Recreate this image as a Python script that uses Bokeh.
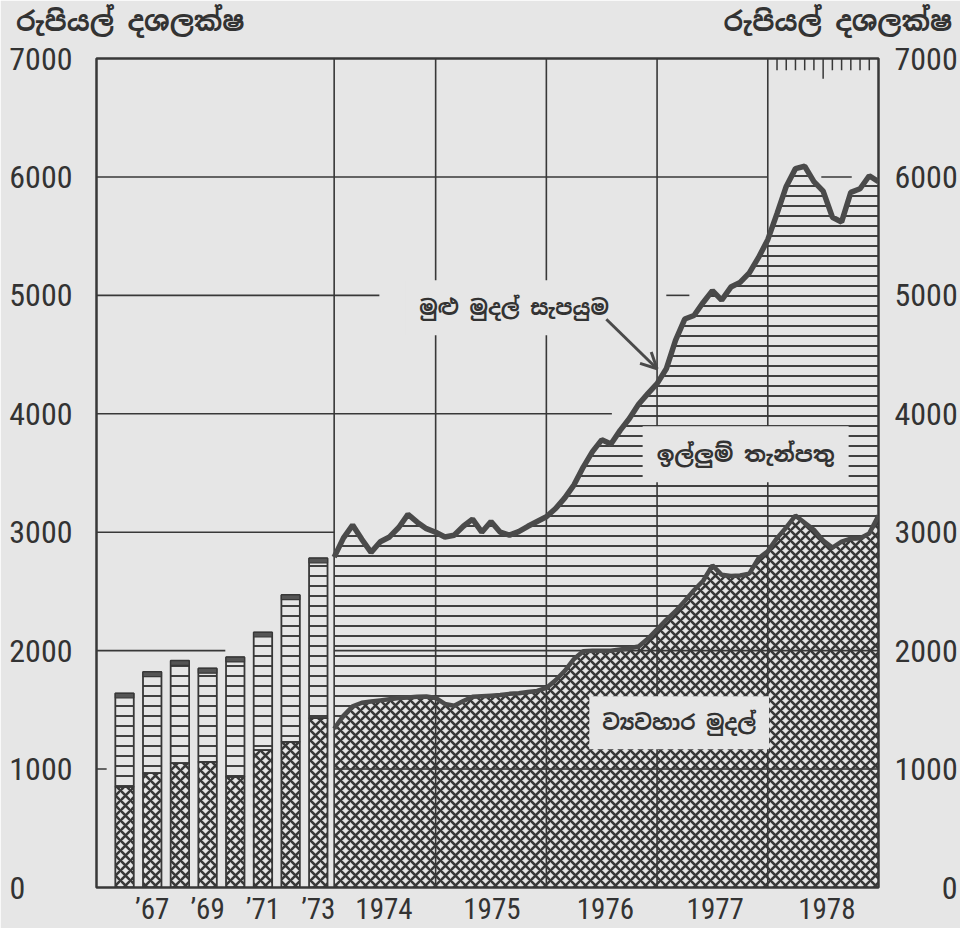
import numpy as np
from bokeh.plotting import figure
from bokeh.models import Range1d, LinearAxis, FixedTicker, Label, Arrow, OpenHead
from bokeh.embed import file_html
from bokeh.resources import INLINE

# ---------------- data (Rs. million) ----------------
bar_years = ["1966", "1967", "1968", "1969", "1970", "1971", "1972", "1973"]
bar_currency = [850, 965, 1050, 1060, 935, 1160, 1230, 1430]
bar_total = [1640, 1820, 1915, 1850, 1945, 2155, 2470, 2780]

# monthly, Jan 1974 .. Dec 1978
total_monthly = [2790, 2950, 3060, 2940, 2830, 2920, 2960, 3040, 3150, 3085, 3030, 3000,
                 2960, 2975, 3050, 3110, 3000, 3090, 3000, 2975, 3005, 3050, 3090, 3130,
                 3200, 3290, 3400, 3550, 3680, 3780, 3745, 3860, 3960, 4080, 4170, 4255,
                 4380, 4620, 4800, 4830, 4940, 5040, 4960, 5070, 5110, 5190, 5320, 5470,
                 5690, 5920, 6070, 6090, 5960, 5880, 5660, 5620, 5870, 5900, 6010, 5960]
currency_monthly = [1340, 1450, 1530, 1560, 1570, 1580, 1590, 1600, 1605, 1610, 1612, 1600,
                    1550, 1535, 1575, 1610, 1615, 1620, 1625, 1635, 1640, 1650, 1660, 1685,
                    1750, 1830, 1930, 1995, 2000, 2000, 2000, 2010, 2020, 2035, 2100, 2180,
                    2260, 2333, 2420, 2510, 2590, 2720, 2640, 2630, 2635, 2650, 2780, 2840,
                    2950, 3040, 3140, 3080, 3020, 2930, 2870, 2920, 2945, 2950, 2990, 3140]

year_labels = ["’67", "’69", "’71", "’73", "1974", "1975", "1976", "1977", "1978"]
y_ticks = [0, 1000, 2000, 3000, 4000, 5000, 6000, 7000]

unit_title = "රුපියල් දශලක්ෂ"
lbl_total = "මුළු මුදල් සැපයුම"
lbl_demand = "ඉල්ලුම් තැන්පතු"
lbl_currency = "ව්‍යවහාර මුදල්"

# ---------------- layout helpers ----------------
n_bars = len(bar_years)
bar_x = [round(-0.72 - 3.0 * (n_bars - 1 - i), 2) for i in range(n_bars)]
mx = np.arange(1, len(total_monthly) + 1)  # month-end index from Jan 1974

bg = "#e6e6e6"
ink = "#383838"
line_ink = "#4a4a4a"
txt = "#333333"
num_font = "Roboto Condensed, Liberation Sans Narrow, DejaVu Sans Condensed, sans-serif"
sin_font = "Noto Sans Sinhala, Noto Serif Sinhala, Iskoola Pota, sans-serif"

X0, X1 = -24.76, 60.0
p = figure(width=960, height=928, output_backend="svg", toolbar_location=None,
           x_range=Range1d(X0, X1), y_range=Range1d(0, 7000),
           min_border_left=96, min_border_right=80, min_border_top=58, min_border_bottom=32,
           background_fill_color=bg, border_fill_color=bg)
p.outline_line_color = ink
p.outline_line_width = 2.5
p.xgrid.visible = False
p.ygrid.visible = False

# ---------------- grid segments ----------------
hx0 = [X0, X0, X0, X0, X0, X0, 1, 1, 53.8, 37.0]
hx1 = [X0 + 1.1, -10.8, 1, 31.1, 5.9, 48.0, 60, 60, 57.1, 39.5]
hy = [1000, 2000, 3000, 4000, 5000, 6000, 1000, 2000, 6000, 5000]
p.segment(x0=hx0, y0=hy, x1=hx1, y1=hy, line_color=ink, line_width=1.6, level="underlay")
vx = [1, 12, 24, 36, 48]
p.segment(x0=vx, y0=[0] * len(vx), x1=vx, y1=[7000] * len(vx),
          line_color=ink, line_width=1.6, level="underlay")

# minor month ticks at top (1978)
tk = np.arange(49, 60)
tlen = np.where(tk == 54, 170, 100)
p.segment(x0=tk, y0=7000, x1=tk, y1=7000 - tlen, line_color=ink, line_width=1.5)

# ---------------- bars 1966-73 ----------------
p.vbar(x=bar_x, width=2.0, bottom=0, top=bar_currency, fill_alpha=0,
       hatch_pattern="diagonal_cross", hatch_color=ink, hatch_weight=2.6, hatch_scale=10,
       line_color=ink, line_width=1.8)
p.vbar(x=bar_x, width=2.0, bottom=bar_currency, top=bar_total, fill_alpha=0,
       hatch_pattern="horizontal_line", hatch_color=ink, hatch_weight=1.9, hatch_scale=10,
       line_color=ink, line_width=1.8)
p.vbar(x=bar_x, width=2.0, bottom=np.array(bar_total) - 40, top=bar_total,
       fill_color="#555555", line_color=ink, line_width=1.2)

# ---------------- monthly areas 1974-78 ----------------
p.varea(x=mx, y1=currency_monthly, y2=total_monthly, fill_alpha=0,
        hatch_pattern="horizontal_line", hatch_color=ink, hatch_weight=1.9, hatch_scale=10)
p.varea(x=mx, y1=0, y2=currency_monthly, fill_alpha=0,
        hatch_pattern="diagonal_cross", hatch_color=ink, hatch_weight=2.6, hatch_scale=10)
p.line(mx, currency_monthly, line_color=line_ink, line_width=4.5)
p.line(mx, total_monthly, line_color=line_ink, line_width=5.5)

# ---------------- axes ----------------
fig_sp = "\u2007"
x_tick_pos = [bar_x[1], bar_x[3], bar_x[5], bar_x[7], 6.4, 18.1, 30.4, 42.3, 54.4]
p.xaxis.ticker = FixedTicker(ticks=x_tick_pos)
p.xaxis.major_label_overrides = {t: l for t, l in zip(x_tick_pos, year_labels)}
for ax in [p.xaxis[0], p.yaxis[0]]:
    ax.axis_line_color = None
    ax.major_tick_line_color = None
    ax.minor_tick_line_color = None
    ax.major_tick_out = 0
    ax.major_tick_in = 0
    ax.major_label_text_font = num_font
    ax.major_label_text_color = txt
p.xaxis.major_label_text_font_size = "29px"
p.xaxis.major_label_standoff = 4

p.yaxis.ticker = FixedTicker(ticks=y_ticks)
p.yaxis.major_label_overrides = {0: "0" + fig_sp * 3}
p.yaxis.major_label_text_font_size = "32px"
p.yaxis.major_label_standoff = 24

ry = LinearAxis(ticker=FixedTicker(ticks=y_ticks), axis_line_color=None,
                major_tick_line_color=None, minor_tick_line_color=None,
                major_tick_out=0, major_tick_in=0,
                major_label_text_font=num_font, major_label_text_font_size="32px",
                major_label_text_color=txt, major_label_standoff=16,
                major_label_overrides={0: fig_sp * 3 + "0"})
p.add_layout(ry, "right")

# unit titles as labels of a top axis (left and right corners)
title_pos = [-21.1, 55.6]
top_ax = LinearAxis(ticker=FixedTicker(ticks=title_pos), axis_line_color=None,
                    major_tick_line_color=None, minor_tick_line_color=None,
                    major_tick_out=0, major_tick_in=0,
                    major_label_text_font=sin_font, major_label_text_font_size="27px",
                    major_label_text_font_style="bold", major_label_text_color=txt,
                    major_label_standoff=20,
                    major_label_overrides={t: unit_title for t in title_pos})
p.add_layout(top_ax, "above")

# ---------------- series labels ----------------
p.add_layout(Label(x=20.5, y=4896, text=lbl_total, text_font=sin_font, text_font_size="21px",
                   text_font_style="bold", text_color=txt, text_align="center",
                   text_baseline="middle", background_fill_color=bg, padding=14))
p.add_layout(Label(x=45.6, y=3659, text=lbl_demand, text_font=sin_font, text_font_size="22px",
                   text_font_style="bold", text_color=txt, text_align="center",
                   text_baseline="middle", background_fill_color=bg, padding=14))
p.add_layout(Label(x=38.4, y=1391, text=lbl_currency, text_font=sin_font, text_font_size="21px",
                   text_font_style="bold", text_color=txt, text_align="center",
                   text_baseline="middle", background_fill_color=bg, padding=13))

p.add_layout(Arrow(x_start=30.5, y_start=4798, x_end=36.0, y_end=4380,
                   line_color=line_ink, line_width=3,
                   end=OpenHead(size=16, line_color=line_ink, line_width=3)))

open("out.html", "w").write(file_html(p, INLINE))
